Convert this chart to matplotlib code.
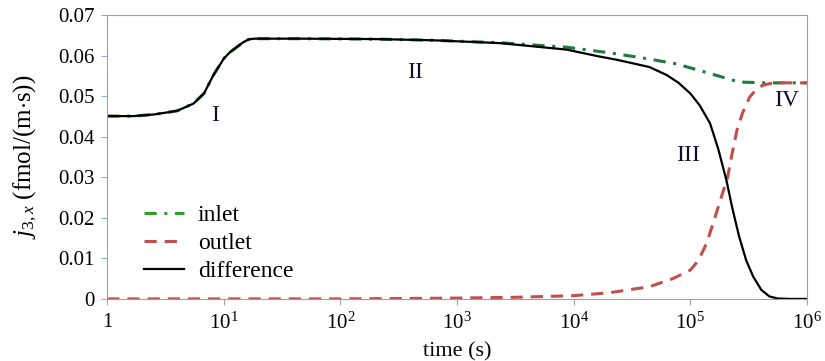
import matplotlib
matplotlib.use('Agg')
import matplotlib.pyplot as plt
import matplotlib.ticker as mticker

plt.rcParams['font.family'] = ['Liberation Serif', 'DejaVu Serif']
plt.rcParams['mathtext.fontset'] = 'custom'
plt.rcParams['mathtext.rm'] = 'Liberation Serif'
plt.rcParams['mathtext.it'] = 'Liberation Serif:italic'

# time points are read as exponents of 10 (log scale axis)
# difference (black)
logt_diff = [0, 0.226, 0.40, 0.60, 0.74, 0.83, 0.91, 1.0, 1.05, 1.11, 1.16, 1.21, 1.26,
             1.31, 1.65, 2.3, 2.8, 3.37, 3.94, 4.22, 4.37, 4.65, 4.8, 4.9, 5.0, 5.08,
             5.17, 5.24, 5.31, 5.36, 5.42, 5.48, 5.54, 5.61, 5.68, 5.75, 5.85, 6.0]
j_diff = [0.0451, 0.0451, 0.0455, 0.0464, 0.0482, 0.0507, 0.0552, 0.0593, 0.0608,
          0.0621, 0.0632, 0.0640, 0.0642, 0.0642, 0.0642, 0.0641, 0.0638, 0.0631,
          0.0615, 0.0598, 0.0590, 0.0572, 0.0552, 0.0533, 0.0507, 0.0478, 0.0433,
          0.0370, 0.0293, 0.0225, 0.0153, 0.0095, 0.0055, 0.0022, 0.0006, 0.0001,
          0.0, 0.0]

# inlet (green)
logt_in = [0, 0.226, 0.40, 0.60, 0.74, 0.83, 0.91, 1.0, 1.05, 1.11, 1.16, 1.21, 1.26,
           1.31, 1.65, 2.3, 2.8, 3.37, 3.94, 4.31, 4.6, 4.88, 5.17, 5.42, 5.65, 6.0]
j_in = [0.0451, 0.0451, 0.0455, 0.0464, 0.0482, 0.0507, 0.0552, 0.0593, 0.0608,
        0.0621, 0.0632, 0.0640, 0.0642, 0.0642, 0.0642, 0.0641, 0.0638, 0.0632,
        0.0621, 0.0607, 0.0594, 0.0580, 0.0556, 0.0535, 0.0533, 0.0533]

# outlet (red)
logt_out = [0, 1, 2, 2.5, 3, 3.5, 4, 4.3, 4.65, 4.85, 5.0, 5.07, 5.14, 5.2, 5.25, 5.32,
            5.36, 5.40, 5.45, 5.51, 5.56, 5.62, 5.71, 6.0]
j_out = [0.0, 0.0, 0.0, 0.0001, 0.0002, 0.0004, 0.0008, 0.0015, 0.0030, 0.0050,
         0.0071, 0.0095, 0.0137, 0.0190, 0.0236, 0.0300, 0.0360, 0.0416, 0.0460,
         0.0498, 0.0515, 0.0527, 0.0533, 0.0533]

region_labels = ['I', 'II', 'III', 'IV']
region_logt = [0.925, 2.64, 4.98, 5.83]
region_j = [0.0453, 0.0559, 0.0355, 0.0490]

fig = plt.figure(figsize=(8.25, 3.61), dpi=100)
ax = fig.add_axes([0.13, 0.172, 0.848, 0.786])

ax.plot([10 ** e for e in logt_in], j_in, color='#1f7a3c', lw=2.2,
        ls=(0, (4, 2.5, 1, 2.5)), label='inlet')
ax.plot([10 ** e for e in logt_out], j_out, color='#c0504d', lw=2.2,
        ls=(0, (4, 2.6)), label='outlet')
ax.plot([10 ** e for e in logt_diff], j_diff, color='black', lw=1.6, label='difference')

for lab, e, y in zip(region_labels, region_logt, region_j):
    ax.text(10 ** e, y, lab, fontsize=17, ha='center', va='center', color='#101030')

ax.set_xscale('log')
ax.set_xlim(1, 1e6)
ax.set_ylim(0, 0.07)
ax.set_yticks([0, 0.01, 0.02, 0.03, 0.04, 0.05, 0.06, 0.07])
ax.yaxis.set_major_formatter(mticker.FuncFormatter(lambda v, p: '0' if v == 0 else '%.2f' % v))
ax.set_xticks([1, 10, 100, 1e3, 1e4, 1e5, 1e6])
ax.set_xticklabels(['1'] + ['$10^{%d}$' % k for k in range(1, 7)])
ax.xaxis.set_minor_locator(mticker.NullLocator())
ax.tick_params(axis='both', labelsize=15, length=4, color='#8faadc', pad=5)
ax.tick_params(axis='x', color='#a0a0a0', pad=6)
for s in ax.spines.values():
    s.set_color('#a0a0a0')

ax.set_xlabel('time (s)', fontsize=16, labelpad=6)
ax.set_ylabel('$j_{3,x}$ (fmol/(m$\\cdot$s))', fontsize=18, labelpad=14)

leg = ax.legend(loc='upper left', bbox_to_anchor=(0.035, 0.375), frameon=False, fontsize=17,
                handlelength=1.7, labelspacing=0.28, handletextpad=0.6, borderpad=0)
leg.get_lines()[0].set_color('#2ca02c')

fig.savefig('out.png', dpi=100)
